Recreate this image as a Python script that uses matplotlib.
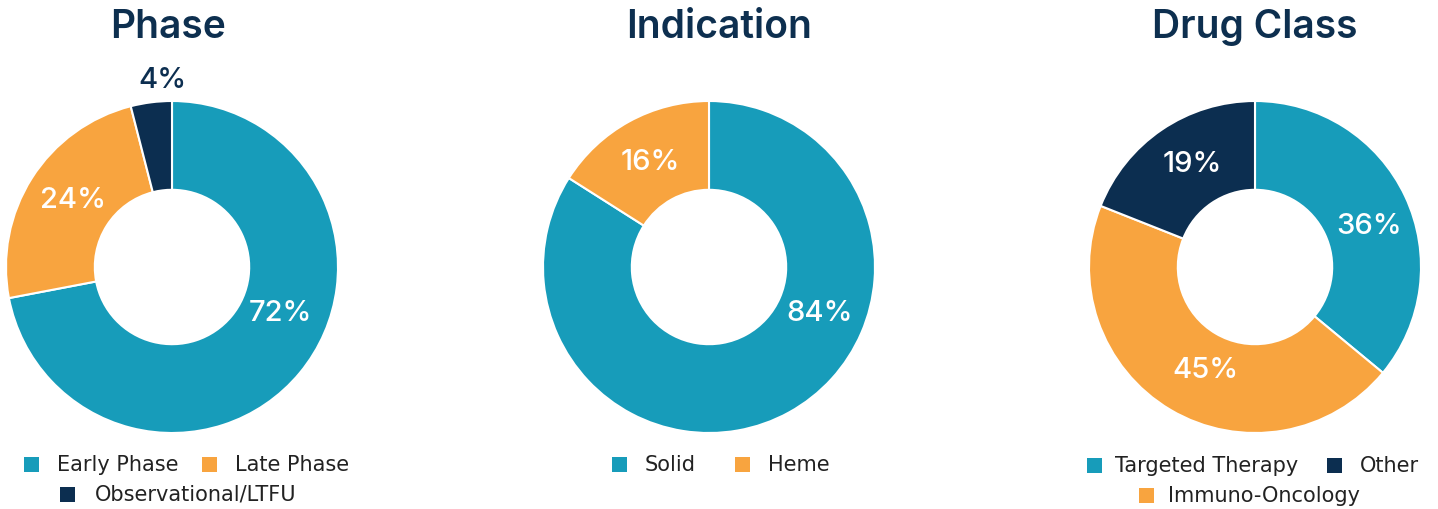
import matplotlib
matplotlib.use("Agg")
import matplotlib.pyplot as plt
from matplotlib.patches import Rectangle

# ---- data ----
titles = ["Phase", "Indication", "Drug Class"]
phase_labels = ["Early Phase", "Late Phase", "Observational/LTFU"]
phase_values = [72, 24, 4]
indication_labels = ["Solid", "Heme"]
indication_values = [84, 16]
drug_labels = ["Targeted Therapy", "Immuno-Oncology", "Other"]
drug_values = [36, 45, 19]

TEAL = "#179cba"
ORANGE = "#f8a43f"
NAVY = "#0c2e50"
TITLE_C = "#0d2f4f"
TEXT_C = "#222222"

plt.rcParams['font.family'] = ['Inter', 'DejaVu Sans']

W, H = 1438, 510
fig = plt.figure(figsize=(W / 100, H / 100), dpi=100)

R_PX = 166
HALF = 180

charts = [
    dict(values=phase_values, labels=phase_labels, colors=[TEAL, ORANGE, NAVY], cx=172, cy=268, tx=168,
         lab_pos=[(281, 314), (73, 200), (162, 80)], lab_col=["white", "white", NAVY],
         legend=[[(0, 24, 57), (1, 202, 235)], [(2, 60, 95)]], leg_y=[465, 495]),
    dict(values=indication_values, labels=indication_labels, colors=[TEAL, ORANGE], cx=709, cy=268, tx=719,
         lab_pos=[(820, 314), (650, 162)], lab_col=["white", "white"],
         legend=[[(0, 612, 645), (1, 735, 768)]], leg_y=[465]),
    dict(values=drug_values, labels=drug_labels, colors=[TEAL, ORANGE, NAVY], cx=1255, cy=268, tx=1255,
         lab_pos=[(1369, 227), (1205, 371), (1192, 165)], lab_col=["white", "white", "white"],
         legend=[[(0, 1087, 1115), (2, 1327, 1360)], [(1, 1139, 1168)]], leg_y=[466, 496]),
]

def fx(x):
    return x / W

def fy(y):
    return (H - y) / H

for title, c in zip(titles, charts):
    ax = fig.add_axes([fx(c['cx'] - HALF), fy(c['cy'] + HALF), 2 * HALF / W, 2 * HALF / H])
    lim = HALF / R_PX
    ax.pie(c['values'], colors=c['colors'], startangle=90, counterclock=False, radius=1.0,
           wedgeprops=dict(width=0.535, edgecolor='white', linewidth=1.5))
    ax.set_xlim(-lim, lim)
    ax.set_ylim(-lim, lim)
    ax.set_aspect('equal')
    ax.axis('off')
    for v, (px, py), col in zip(c['values'], c['lab_pos'], c['lab_col']):
        fig.text(fx(px), fy(py), f"{v}%", color=col, fontsize=21, fontweight='medium',
                 ha='center', va='center')
    fig.text(fx(c['tx']), fy(27), title, color=TITLE_C, fontsize=28, fontweight='semibold',
             ha='center', va='center')
    for row, ly in zip(c['legend'], c['leg_y']):
        for idx, mx, tx in row:
            fig.add_artist(Rectangle((fx(mx), fy(ly + 7.5)), 15 / W, 15 / H,
                                     transform=fig.transFigure, facecolor=c['colors'][idx],
                                     edgecolor='none'))
            fig.text(fx(tx), fy(ly), c['labels'][idx], color=TEXT_C, fontsize=15,
                     family=['DejaVu Sans'], ha='left', va='center')

fig.savefig("out.png", dpi=100, facecolor='white')
